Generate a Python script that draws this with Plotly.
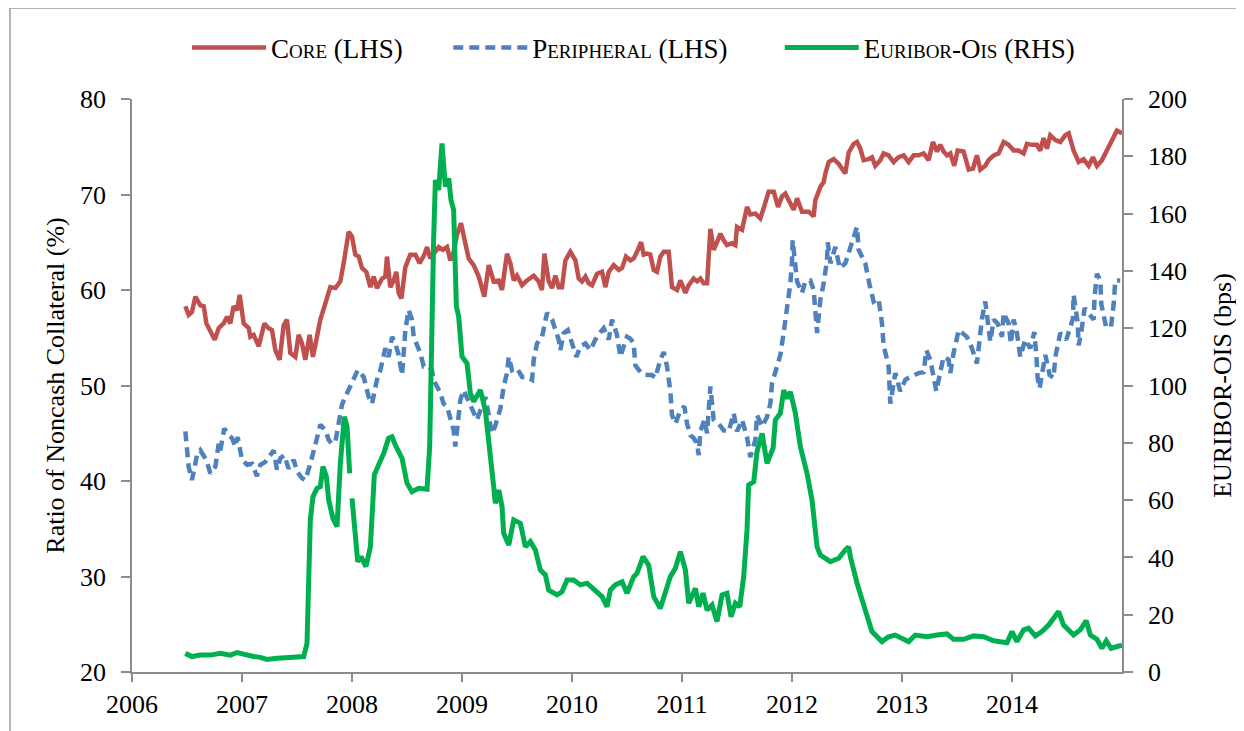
import plotly.graph_objects as go

# ---------------- data (decimal years) ----------------
core_year = [2006.485, 2006.515, 2006.545, 2006.576, 2006.621, 2006.652, 2006.676, 2006.712, 2006.752, 2006.788,
             2006.833, 2006.864, 2006.894, 2006.924, 2006.955, 2006.979, 2007.015, 2007.061, 2007.076, 2007.106,
             2007.152, 2007.203, 2007.242, 2007.273, 2007.303, 2007.342, 2007.379, 2007.409, 2007.439, 2007.485,
             2007.515, 2007.545, 2007.576, 2007.615, 2007.645, 2007.682, 2007.712, 2007.758, 2007.803, 2007.849,
             2007.894, 2007.924, 2007.970, 2008.000, 2008.030, 2008.061, 2008.091, 2008.130, 2008.167, 2008.197,
             2008.227, 2008.273, 2008.303, 2008.318, 2008.348, 2008.379, 2008.403, 2008.424, 2008.449, 2008.485,
             2008.530, 2008.576, 2008.615, 2008.658, 2008.682, 2008.712, 2008.742, 2008.788, 2008.827, 2008.864,
             2008.894, 2008.924, 2008.955, 2008.991, 2009.030, 2009.061, 2009.106, 2009.152, 2009.203, 2009.243,
             2009.288, 2009.334, 2009.364, 2009.409, 2009.440, 2009.470, 2009.500, 2009.546, 2009.591, 2009.652,
             2009.697, 2009.727, 2009.749, 2009.788, 2009.818, 2009.849, 2009.879, 2009.909, 2009.940, 2009.985,
             2010.031, 2010.061, 2010.091, 2010.122, 2010.152, 2010.182, 2010.228, 2010.273, 2010.303, 2010.334,
             2010.379, 2010.425, 2010.455, 2010.491, 2010.531, 2010.561, 2010.591, 2010.628, 2010.652, 2010.682,
             2010.712, 2010.743, 2010.773, 2010.803, 2010.834, 2010.879, 2010.909, 2010.955, 2010.985, 2011.031,
             2011.061, 2011.106, 2011.137, 2011.167, 2011.197, 2011.228, 2011.258, 2011.288, 2011.318, 2011.349,
             2011.379, 2011.409, 2011.455, 2011.485, 2011.500, 2011.546, 2011.591, 2011.621, 2011.667, 2011.712,
             2011.743, 2011.788, 2011.834, 2011.873, 2011.909, 2011.940, 2011.970, 2012.015, 2012.046, 2012.091,
             2012.152, 2012.197, 2012.212, 2012.258, 2012.288, 2012.303, 2012.334, 2012.379, 2012.425, 2012.485,
             2012.515, 2012.561, 2012.591, 2012.621, 2012.651, 2012.697, 2012.727, 2012.757, 2012.803, 2012.833,
             2012.878, 2012.924, 2012.969, 2013.015, 2013.060, 2013.106, 2013.151, 2013.197, 2013.242, 2013.281,
             2013.318, 2013.348, 2013.378, 2013.409, 2013.439, 2013.475, 2013.506, 2013.560, 2013.606, 2013.645,
             2013.681, 2013.712, 2013.757, 2013.787, 2013.833, 2013.878, 2013.924, 2013.969, 2014.015, 2014.060,
             2014.106, 2014.136, 2014.181, 2014.227, 2014.257, 2014.287, 2014.318, 2014.348, 2014.394, 2014.439,
             2014.484, 2014.515, 2014.560, 2014.606, 2014.651, 2014.697, 2014.736, 2014.772, 2014.818, 2014.863,
             2014.909, 2014.954, 2015.000]
core_val = [58.3, 57.4, 57.7, 59.3, 58.4, 58.3, 56.5, 55.8, 54.8, 56.0,
            56.5, 57.2, 56.5, 58.3, 57.9, 59.5, 56.5, 56.0, 55.1, 55.3,
            54.1, 56.5, 56.0, 55.8, 53.7, 52.7, 56.3, 56.9, 53.4, 53.0,
            55.3, 54.4, 52.7, 55.3, 53.0, 55.1, 56.9, 58.6, 60.3, 60.2,
            60.9, 62.8, 66.1, 65.6, 63.7, 63.5, 62.3, 61.9, 60.3, 61.4,
            60.2, 61.2, 61.4, 63.5, 60.3, 61.0, 61.9, 59.7, 59.1, 62.4,
            63.7, 63.7, 62.8, 63.7, 64.5, 63.3, 63.8, 64.5, 64.2, 64.5,
            63.1, 64.0, 65.8, 67.0, 64.9, 63.3, 62.6, 61.4, 59.3, 62.6,
            60.9, 61.0, 60.0, 63.8, 62.8, 61.0, 61.5, 60.5, 61.0, 61.5,
            60.9, 60.0, 63.8, 60.9, 60.2, 61.5, 60.3, 60.3, 63.1, 64.0,
            63.1, 61.2, 60.9, 61.4, 60.7, 60.5, 61.7, 61.9, 60.3, 61.9,
            62.6, 62.1, 62.3, 63.5, 63.1, 63.3, 64.0, 65.0, 63.7, 63.8,
            63.7, 62.1, 61.9, 63.5, 64.0, 64.0, 60.3, 60.0, 61.0, 59.7,
            60.5, 61.2, 60.9, 61.2, 60.7, 60.7, 66.4, 64.2, 65.0, 65.9,
            65.2, 64.7, 64.9, 64.7, 66.6, 66.3, 68.7, 67.9, 68.0, 67.5,
            68.6, 70.3, 70.3, 68.7, 69.8, 70.1, 69.4, 68.4, 69.6, 68.2,
            68.2, 67.7, 69.4, 70.8, 71.3, 72.2, 73.4, 73.7, 73.2, 72.2,
            74.4, 75.3, 75.5, 74.8, 73.6, 73.7, 73.9, 73.0, 73.6, 74.3,
            74.1, 73.4, 73.9, 74.1, 73.4, 74.1, 74.1, 74.3, 73.6, 75.5,
            74.5, 75.2, 74.5, 74.1, 74.3, 73.0, 74.6, 74.5, 72.6, 72.7,
            74.1, 72.6, 73.0, 73.6, 74.1, 74.3, 75.5, 75.2, 74.6, 74.6,
            74.3, 75.3, 75.2, 75.2, 74.6, 75.9, 74.8, 76.2, 75.7, 75.5,
            76.2, 76.4, 74.6, 73.4, 73.7, 73.0, 73.9, 73.0, 73.6, 74.6,
            75.7, 76.7, 76.4]

peri_year = [2006.485, 2006.515, 2006.545, 2006.591, 2006.621, 2006.676, 2006.712, 2006.758, 2006.788, 2006.803,
             2006.839, 2006.879, 2006.909, 2006.939, 2006.961, 2007.000, 2007.046, 2007.091, 2007.136, 2007.167,
             2007.212, 2007.258, 2007.288, 2007.318, 2007.349, 2007.385, 2007.424, 2007.470, 2007.500, 2007.545,
             2007.576, 2007.621, 2007.652, 2007.682, 2007.712, 2007.758, 2007.788, 2007.818, 2007.849, 2007.879,
             2007.909, 2007.955, 2007.985, 2008.052, 2008.106, 2008.152, 2008.182, 2008.227, 2008.258, 2008.303,
             2008.333, 2008.364, 2008.394, 2008.424, 2008.455, 2008.485, 2008.515, 2008.545, 2008.561, 2008.591,
             2008.621, 2008.652, 2008.697, 2008.727, 2008.742, 2008.803, 2008.833, 2008.864, 2008.894, 2008.924,
             2008.939, 2008.970, 2008.985, 2009.015, 2009.076, 2009.106, 2009.136, 2009.167, 2009.212, 2009.240,
             2009.270, 2009.300, 2009.320, 2009.349, 2009.379, 2009.409, 2009.425, 2009.455, 2009.500, 2009.546,
             2009.591, 2009.637, 2009.652, 2009.682, 2009.728, 2009.743, 2009.773, 2009.818, 2009.849, 2009.879,
             2009.894, 2009.925, 2009.961, 2009.985, 2010.015, 2010.040, 2010.076, 2010.122, 2010.167, 2010.212,
             2010.252, 2010.288, 2010.334, 2010.364, 2010.409, 2010.440, 2010.470, 2010.500, 2010.531, 2010.561,
             2010.576, 2010.622, 2010.667, 2010.728, 2010.758, 2010.803, 2010.834, 2010.864, 2010.894, 2010.909,
             2010.940, 2010.985, 2011.022, 2011.046, 2011.076, 2011.106, 2011.137, 2011.152, 2011.167, 2011.203,
             2011.228, 2011.243, 2011.258, 2011.288, 2011.334, 2011.379, 2011.425, 2011.470, 2011.500, 2011.546,
             2011.591, 2011.621, 2011.667, 2011.682, 2011.728, 2011.773, 2011.803, 2011.818, 2011.894, 2011.925,
             2011.955, 2011.985, 2012.000, 2012.006, 2012.046, 2012.091, 2012.121, 2012.167, 2012.197, 2012.212,
             2012.228, 2012.258, 2012.288, 2012.318, 2012.325, 2012.349, 2012.394, 2012.434, 2012.485, 2012.546,
             2012.591, 2012.606, 2012.666, 2012.706, 2012.742, 2012.787, 2012.818, 2012.833, 2012.878, 2012.894,
             2012.924, 2012.939, 2012.984, 2013.030, 2013.060, 2013.151, 2013.197, 2013.221, 2013.257, 2013.287,
             2013.312, 2013.348, 2013.378, 2013.424, 2013.439, 2013.469, 2013.515, 2013.590, 2013.636, 2013.681,
             2013.706, 2013.727, 2013.757, 2013.787, 2013.803, 2013.833, 2013.869, 2013.909, 2013.924, 2013.969,
             2013.990, 2014.015, 2014.045, 2014.075, 2014.121, 2014.166, 2014.203, 2014.221, 2014.233, 2014.251,
             2014.287, 2014.303, 2014.342, 2014.378, 2014.394, 2014.439, 2014.494, 2014.554, 2014.560, 2014.597,
             2014.606, 2014.630, 2014.660, 2014.742, 2014.751, 2014.772, 2014.803, 2014.812, 2014.854, 2014.900,
             2014.924, 2014.939, 2014.984]
peri_val = [45.2, 41.5, 40.1, 42.7, 43.2, 42.2, 40.8, 41.5, 43.9, 43.2,
            45.5, 44.8, 44.5, 43.6, 44.6, 42.2, 41.7, 41.8, 40.5, 41.7,
            42.0, 42.7, 43.2, 41.2, 42.4, 42.7, 41.3, 42.2, 41.0, 40.3,
            40.1, 41.8, 43.4, 44.5, 45.9, 45.3, 44.3, 43.9, 44.1, 46.0,
            48.0, 49.2, 49.9, 51.6, 50.9, 48.8, 48.1, 50.6, 51.6, 53.9,
            53.0, 55.1, 54.4, 53.2, 51.1, 55.8, 57.9, 56.9, 55.1, 54.1,
            53.4, 52.0, 52.0, 51.6, 50.6, 49.2, 48.1, 47.8, 46.4, 45.3,
            43.6, 47.1, 48.5, 49.5, 48.0, 47.1, 46.4, 47.4, 48.8, 47.1,
            45.0, 45.7, 46.6, 47.6, 49.9, 51.3, 53.0, 51.6, 51.8, 50.9,
            50.9, 50.6, 52.7, 54.4, 55.1, 55.8, 57.6, 56.9, 55.8, 54.8,
            53.7, 55.5, 55.8, 54.9, 54.1, 53.0, 54.1, 54.4, 53.7, 54.8,
            55.5, 56.0, 54.8, 56.9, 55.3, 53.0, 54.1, 55.1, 54.9, 54.4,
            52.1, 51.4, 51.1, 51.1, 50.8, 52.7, 53.5, 52.0, 49.4, 46.9,
            46.0, 47.4, 47.8, 46.0, 44.8, 44.5, 43.9, 42.7, 45.2, 46.4,
            45.0, 47.4, 49.9, 46.4, 46.0, 45.3, 45.2, 47.1, 45.2, 46.4,
            44.6, 42.5, 44.3, 46.9, 45.7, 46.7, 48.1, 50.2, 53.2, 55.6,
            57.9, 60.7, 63.0, 65.2, 60.9, 59.7, 60.9, 61.0, 60.0, 57.9,
            55.5, 59.0, 60.7, 63.1, 65.0, 62.8, 64.5, 62.3, 62.8, 65.0,
            66.6, 64.2, 62.8, 60.5, 58.8, 59.1, 56.5, 54.2, 52.0, 48.1,
            50.2, 51.3, 49.4, 50.6, 50.8, 51.3, 51.4, 53.7, 52.7, 50.6,
            49.4, 51.4, 53.0, 52.7, 51.3, 53.4, 55.8, 55.1, 53.9, 52.3,
            54.8, 57.0, 58.8, 56.3, 54.6, 56.9, 56.5, 55.1, 57.6, 56.5,
            54.4, 56.9, 55.5, 53.0, 54.8, 53.9, 55.6, 53.2, 50.8, 49.7,
            52.0, 53.2, 51.1, 50.8, 53.0, 55.5, 54.8, 57.0, 59.5, 56.6,
            54.2, 55.6, 58.1, 56.9, 59.3, 61.7, 61.0, 58.5, 56.2, 56.1,
            58.5, 61.0, 61.0]

euribor_year = [2006.485, 2006.545, 2006.621, 2006.712, 2006.803, 2006.894, 2006.955, 2007.030, 2007.106, 2007.167,
                2007.227, 2007.318, 2007.409, 2007.500, 2007.561, 2007.591, 2007.606, 2007.621, 2007.645, 2007.682,
                2007.712, 2007.736, 2007.767, 2007.788, 2007.827, 2007.864, 2007.894, 2007.930, 2007.955, 2007.979,
                2007.990,
                2008.000, 2008.030, 2008.052, 2008.082, 2008.127, 2008.167, 2008.203, 2008.242, 2008.288, 2008.333,
                2008.364, 2008.394, 2008.455, 2008.500, 2008.545, 2008.606, 2008.682, 2008.706, 2008.712, 2008.742,
                2008.758, 2008.788, 2008.818, 2008.849, 2008.879, 2008.900, 2008.924, 2008.949, 2008.970, 2009.000,
                2009.046, 2009.076, 2009.106, 2009.167, 2009.212, 2009.243, 2009.288, 2009.303, 2009.334, 2009.364,
                2009.379, 2009.425, 2009.470, 2009.531, 2009.576, 2009.622, 2009.667, 2009.712, 2009.758, 2009.788,
                2009.864, 2009.909, 2009.955, 2010.015, 2010.076, 2010.137, 2010.212, 2010.273, 2010.318, 2010.349,
                2010.394, 2010.455, 2010.500, 2010.561, 2010.591, 2010.646, 2010.697, 2010.743, 2010.803, 2010.849,
                2010.894, 2010.940, 2010.985, 2011.031, 2011.061, 2011.122, 2011.152, 2011.191, 2011.228, 2011.273,
                2011.318, 2011.364, 2011.409, 2011.446, 2011.485, 2011.525, 2011.561, 2011.591, 2011.606, 2011.652,
                2011.682, 2011.728, 2011.773, 2011.828, 2011.849, 2011.894, 2011.925, 2011.955, 2011.985, 2012.031,
                2012.076, 2012.137, 2012.182, 2012.228, 2012.258, 2012.349, 2012.425, 2012.485, 2012.515, 2012.530,
                2012.591, 2012.666, 2012.727, 2012.818, 2012.878, 2012.939, 2013.000, 2013.060, 2013.121, 2013.227,
                2013.318, 2013.409, 2013.469, 2013.560, 2013.651, 2013.742, 2013.833, 2013.954, 2014.000, 2014.045,
                2014.106, 2014.151, 2014.212, 2014.272, 2014.333, 2014.378, 2014.424, 2014.469, 2014.560, 2014.621,
                2014.675, 2014.712, 2014.772, 2014.818, 2014.857, 2014.900, 2014.954, 2015.000]
euribor_val = [6.5, 5.4, 5.9, 5.9, 6.5, 5.9, 6.8, 5.9, 5.4, 5.1,
               4.4, 4.8, 5.1, 5.6, 5.4, 10.0, 26.3, 53.1, 61.2, 64.1,
               64.7, 71.7, 68.2, 60.0, 53.6, 50.7, 72.8, 89.1, 85.6, 69.3,
               None,
               60.6, 49.6, 38.5, 40.3, 36.8, 43.7, 68.8, 72.3, 76.3, 81.6,
               82.1, 79.2, 74.6, 65.9, 62.9, 64.1, 63.8, 78.6, 92.6, 150.8,
               171.7, 168.2, 184.5, 169.4, 172.3, 164.7, 161.3, 127.5, 124.0, 110.1,
               107.7, 97.3, 94.4, 98.4, 91.4, 78.6, 64.7, 58.9, 63.5, 57.7,
               48.4, 44.3, 53.1, 51.9, 43.7, 45.5, 42.6, 35.6, 33.9, 28.6,
               26.9, 28.0, 32.1, 32.1, 30.4, 31.0, 28.6, 26.3, 22.8, 28.6,
               30.4, 31.5, 27.5, 33.3, 34.4, 40.3, 37.3, 26.3, 22.2, 27.5,
               33.3, 36.2, 42.0, 35.6, 24.0, 29.2, 22.8, 27.5, 21.6, 23.4,
               17.6, 26.9, 27.5, 19.3, 24.0, 22.8, 33.3, 49.6, 65.3, 66.4,
               76.9, 83.3, 72.8, 78.1, 88.0, 90.3, 98.4, 95.5, 97.8, 90.3,
               78.6, 69.3, 60.0, 43.7, 40.8, 38.5, 39.7, 42.6, 43.7, 40.3,
               31.0, 21.6, 14.1, 10.6, 12.3, 12.9, 11.8, 10.6, 12.9, 12.3,
               12.9, 13.3, 11.4, 11.4, 12.6, 12.3, 10.9, 10.2, 14.1, 10.6,
               14.7, 15.3, 12.6, 14.1, 16.4, 19.1, 21.1, 16.4, 12.9, 14.7,
               17.9, 12.9, 11.4, 8.3, 10.9, 8.3, 9.1, 9.4]

year_ticks = [2006, 2007, 2008, 2009, 2010, 2011, 2012, 2013, 2014]
left_ticks = [20, 30, 40, 50, 60, 70, 80]
right_ticks = [0, 20, 40, 60, 80, 100, 120, 140, 160, 180, 200]

series_names = ["Core (LHS)", "Peripheral (LHS)", "Euribor-Ois (RHS)"]
left_title = "Ratio of Noncash Collateral (%)"
right_title = "EURIBOR-OIS (bps)"

# ---------------- figure ----------------
FONT = "Liberation Serif, Times New Roman, serif"
AXIS_GRAY = "#8c8c8c"
FS = 26
LFS = 27
NB = "\u00a0"

# the page body has an 8px margin, so the figure is drawn 8px smaller and offset
OFF = 8
W, H = 1244 - OFF, 731 - OFF
ML, MR, MT, MB = 132 - OFF, 122, 99 - OFF, 59
PW, PH = W - ML - MR, H - MT - MB


def px_x(x):  # screen pixel -> paper x
    return (x - 132) / PW


def px_y(y):  # screen pixel -> paper y
    return (672 - y) / PH


fig = go.Figure()
fig.add_trace(go.Scatter(x=core_year, y=core_val, name=series_names[0] + NB * 6, mode="lines",
                         line=dict(color="#C0504D", width=4.5)))
fig.add_trace(go.Scatter(x=peri_year, y=peri_val, name=series_names[1] + NB * 7, mode="lines",
                         line=dict(color="#4F81BD", width=4.5, dash="10px,6px")))
fig.add_trace(go.Scatter(x=euribor_year, y=euribor_val, name=series_names[2], mode="lines",
                         line=dict(color="#00B050", width=5), yaxis="y2", connectgaps=False))

fig.update_layout(
    width=W, height=H,
    margin=dict(l=ML, r=MR, t=MT, b=MB, autoexpand=False),
    paper_bgcolor="white", plot_bgcolor="white",
    font=dict(family=FONT, size=FS, color="black"),
    showlegend=True,
    legend=dict(orientation="h", x=px_x(187), xanchor="left", y=px_y(48), yanchor="middle",
                font=dict(family=FONT, size=LFS, color="black", variant="small-caps"),
                bgcolor="rgba(0,0,0,0)", itemwidth=74, traceorder="normal"),
    xaxis=dict(range=[2006, 2015], tickmode="array", tickvals=year_ticks,
               ticktext=[str(t) for t in year_ticks],
               showgrid=False, zeroline=False, showline=True, linecolor=AXIS_GRAY, linewidth=1.5,
               ticks="outside", ticklen=8, tickcolor=AXIS_GRAY, tickwidth=1.5,
               tickfont=dict(family=FONT, size=FS)),
    yaxis=dict(range=[20, 80], tickmode="array", tickvals=left_ticks,
               showgrid=False, zeroline=False, showline=True, linecolor=AXIS_GRAY, linewidth=1.5,
               ticks="outside", ticklen=9, tickcolor=AXIS_GRAY, tickwidth=1.5, ticklabelstandoff=10,
               tickfont=dict(family=FONT, size=FS),
               title=dict(text=left_title, font=dict(family=FONT, size=FS), standoff=8)),
    yaxis2=dict(range=[0, 200], tickmode="array", tickvals=right_ticks, overlaying="y", side="right",
                showgrid=False, zeroline=False, showline=True, linecolor=AXIS_GRAY, linewidth=1.5,
                ticks="outside", ticklen=9, tickcolor=AXIS_GRAY, tickwidth=1.5, ticklabelstandoff=10,
                tickfont=dict(family=FONT, size=FS),
                title=dict(text=right_title, font=dict(family=FONT, size=FS), standoff=27)),
    shapes=[
        dict(type="line", xref="paper", yref="paper", x0=px_x(10), x1=px_x(10),
             y0=px_y(8), y1=px_y(740), line=dict(color="#9a9a9a", width=1.5)),
        dict(type="line", xref="paper", yref="paper", x0=px_x(10), x1=px_x(1250),
             y0=px_y(8), y1=px_y(8), line=dict(color="#9a9a9a", width=1.5)),
    ],
)

fig.write_html("out.html")
